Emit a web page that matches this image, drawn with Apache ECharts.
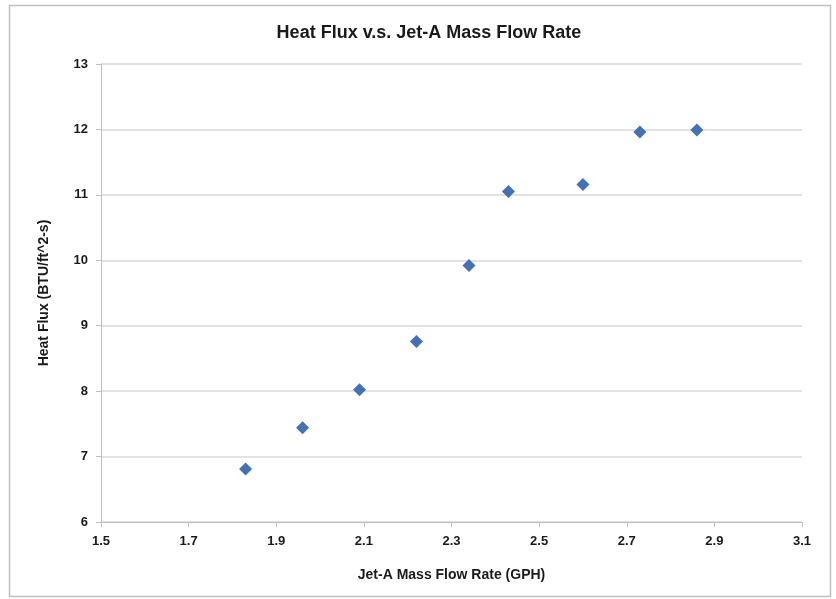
<!DOCTYPE html>
<html><head><meta charset="utf-8">
<script src="https://cdn.jsdelivr.net/npm/echarts@6/dist/echarts.min.js"></script>
<style>html,body{margin:0;padding:0;background:#fff}#c{width:836px;height:599px}</style>
</head><body><div id="c"></div>
<script>
const title = 'Heat Flux v.s. Jet-A Mass Flow Rate';
const xName = 'Jet-A Mass Flow Rate (GPH)';
const yName = 'Heat Flux (BTU/ft^2-s)';
const flowRate = [1.83, 1.96, 2.09, 2.22, 2.34, 2.43, 2.60, 2.73, 2.86];
const heatFlux = [6.81, 7.44, 8.02, 8.76, 9.92, 11.05, 11.16, 11.96, 11.99];
const font = '"Liberation Sans Narrow", "Liberation Sans", sans-serif';
const chart = echarts.init(document.getElementById('c'));
chart.setOption({
  animation: false,
  backgroundColor: '#fff',
  graphic: [{type:'rect', shape:{x:9.5,y:5.5,width:821,height:591}, style:{fill:'none',stroke:'#bfbfbf',lineWidth:1.5}}],
  title: {text: title, left: 424, top: 19, textAlign: 'center',
    textStyle: {fontFamily: font, fontSize: 18, fontWeight: 'bold', color: '#1a1a1a'}},
  grid: {left: 101, right: 34, top: 64, bottom: 77},
  xAxis: {type: 'value', min: 1.5, max: 3.1, interval: 0.2,
    name: xName, nameLocation: 'middle', nameGap: 46,
    nameTextStyle: {fontFamily: font, fontSize: 14, fontWeight: 'bold', color: '#1a1a1a'},
    axisLine: {show: true, lineStyle: {color: '#bfbfbf'}},
    axisTick: {show: true, length: 5, lineStyle: {color: '#bfbfbf'}},
    axisLabel: {fontFamily: font, fontSize: 13, fontWeight: 'bold', color: '#1a1a1a', margin: 13,
      formatter: v => v.toFixed(1)},
    splitLine: {show: false}},
  yAxis: {type: 'value', min: 6, max: 13, interval: 1,
    name: yName, nameLocation: 'middle', nameGap: 50,
    nameTextStyle: {fontFamily: font, fontSize: 14, fontWeight: 'bold', color: '#1a1a1a'},
    axisLine: {show: true, lineStyle: {color: '#bfbfbf'}},
    axisTick: {show: true, length: 5, lineStyle: {color: '#bfbfbf'}},
    axisLabel: {fontFamily: font, fontSize: 13, fontWeight: 'bold', color: '#1a1a1a', margin: 13},
    splitLine: {show: true, lineStyle: {color: '#d9d9d9', width: 1.5}}},
  series: [{type: 'scatter', symbol: 'diamond', symbolSize: 13,
    itemStyle: {color: '#4272b5', opacity: 1},
    data: flowRate.map((x, i) => [x, heatFlux[i]])}]
});
</script></body></html>
